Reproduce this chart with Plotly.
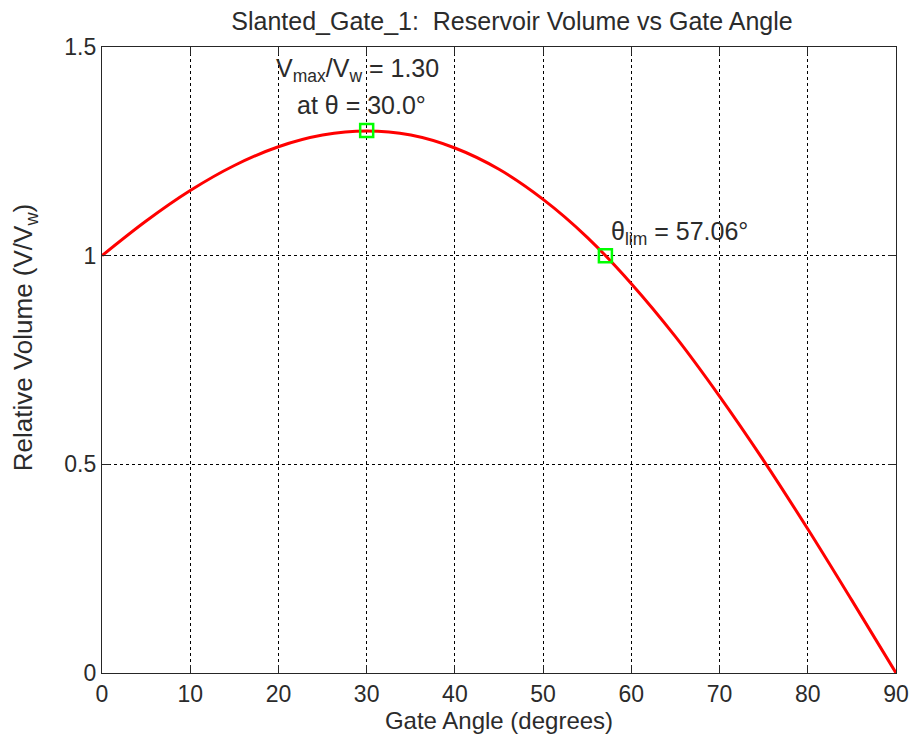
import plotly.graph_objects as go

# Gate angle (degrees) and relative volume V/Vw
angle_deg = [0, 5, 10, 15, 20, 25, 30, 35, 40, 45, 50, 55, 60, 65, 70, 75, 80, 85, 90]
rel_volume = [1.000, 1.083, 1.156, 1.216, 1.261, 1.289, 1.299, 1.289, 1.258, 1.207,
              1.135, 1.044, 0.933, 0.806, 0.663, 0.509, 0.345, 0.174, 0.000]

max_point = [30.0, 1.30]
lim_point = [57.06, 1.00]

x_ticks = [0, 10, 20, 30, 40, 50, 60, 70, 80, 90]
y_ticks = [0, 0.5, 1, 1.5]
y_tick_labels = ["0", "0.5", "1", "1.5"]

FONT = "Liberation Sans, Arial, Helvetica, sans-serif"
TXT = "#2b2b2b"

fig = go.Figure()
fig.add_trace(go.Scatter(x=angle_deg, y=rel_volume, mode="lines",
                         line=dict(color="#FF0000", width=3, shape="spline"),
                         showlegend=False, hoverinfo="skip"))
fig.add_trace(go.Scatter(x=[max_point[0], lim_point[0]], y=[max_point[1], lim_point[1]],
                         mode="markers",
                         marker=dict(symbol="square-open", size=13, color="#00FF00",
                                     line=dict(width=2.5, color="#00FF00")),
                         showlegend=False, hoverinfo="skip"))

fig.add_annotation(x=max_point[0], y=1.50, xref="x", yref="y", yshift=-5, xshift=-9,
                   text="V<sub>max</sub>/V<sub>w</sub> = 1.30", showarrow=False,
                   xanchor="center", yanchor="top", font=dict(size=25, color=TXT, family=FONT))
fig.add_annotation(x=max_point[0], y=1.50, xref="x", yref="y", yshift=-42, xshift=-5,
                   text="at θ = 30.0°", showarrow=False,
                   xanchor="center", yanchor="top", font=dict(size=25, color=TXT, family=FONT))
fig.add_annotation(x=lim_point[0], y=lim_point[1], xref="x", yref="y", xshift=4, yshift=5,
                   text="θ<sub>lim</sub> = 57.06°", showarrow=False,
                   xanchor="left", yanchor="bottom", font=dict(size=25, color=TXT, family=FONT))

# y-axis title as a rotated annotation (placed like the reference)
fig.add_annotation(x=-0.098, y=0.535, xref="paper", yref="paper",
                   text="Relative Volume (V/V<sub>w</sub>)", textangle=-90, showarrow=False,
                   xanchor="center", yanchor="middle", font=dict(size=26, color=TXT, family=FONT))

axis_common = dict(showline=True, linecolor="#262626", linewidth=1.2, mirror="ticks",
                   ticks="inside", ticklen=8, tickcolor="#262626", automargin=False,
                   showgrid=True, gridcolor="#000000", griddash="3px,3px", gridwidth=1,
                   zeroline=False, tickfont=dict(size=23, color=TXT, family=FONT))

fig.update_xaxes(range=[0, 90], tickvals=x_ticks, title=dict(text="Gate Angle (degrees)",
                 font=dict(size=24, color=TXT, family=FONT), standoff=2), **axis_common)
fig.update_yaxes(range=[0, 1.5], tickvals=y_ticks, ticktext=y_tick_labels, **axis_common)

fig.update_layout(
    width=912, height=738,
    margin=dict(l=102, r=16, t=47, b=65),
    paper_bgcolor="white", plot_bgcolor="white",
    title=dict(text="Slanted_Gate_1:  Reservoir Volume vs Gate Angle",
               x=0.5614, xanchor="center", y=0.9715, yanchor="middle",
               font=dict(size=25, color=TXT, family=FONT)),
)

fig.write_html("out.html")
